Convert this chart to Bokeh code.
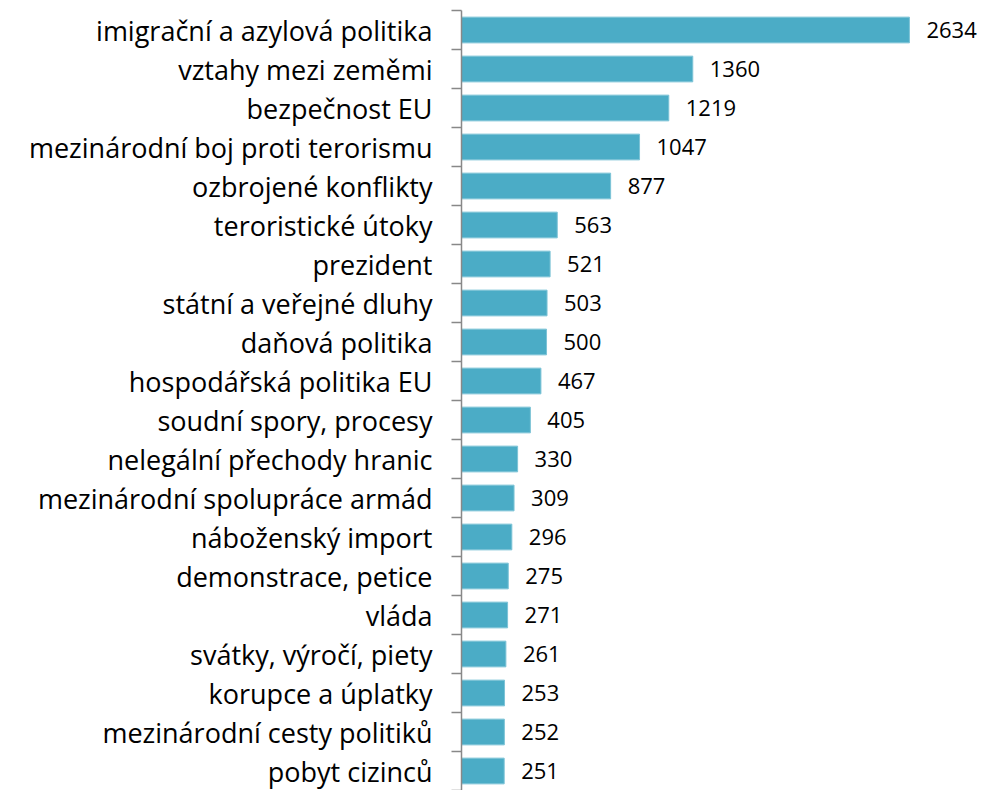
from bokeh.plotting import figure
from bokeh.models import Range1d, FixedTicker, ColumnDataSource
from bokeh.core.properties import value
from bokeh.embed import file_html
from bokeh.resources import INLINE

categories = [
    "imigrační a azylová politika",
    "vztahy mezi zeměmi",
    "bezpečnost EU",
    "mezinárodní boj proti terorismu",
    "ozbrojené konflikty",
    "teroristické útoky",
    "prezident",
    "státní a veřejné dluhy",
    "daňová politika",
    "hospodářská politika EU",
    "soudní spory, procesy",
    "nelegální přechody hranic",
    "mezinárodní spolupráce armád",
    "náboženský import",
    "demonstrace, petice",
    "vláda",
    "svátky, výročí, piety",
    "korupce a úplatky",
    "mezinárodní cesty politiků",
    "pobyt cizinců",
]
counts = [2634, 1360, 1219, 1047, 877, 563, 521, 503, 500, 467,
          405, 330, 309, 296, 275, 271, 261, 253, 252, 251]

n = len(categories)
centers = [i + 0.5 for i in range(n)]
bounds = [float(i) for i in range(n + 1)]

src = ColumnDataSource(dict(
    y=centers, v=counts, lab=[str(c) for c in counts], cat=categories,
))

FONT = "Open Sans"

p = figure(width=980, height=790, output_backend="svg", toolbar_location=None,
           x_range=Range1d(0, 3052), y_range=Range1d(n, 0),
           min_border_left=461, min_border_right=0, min_border_top=10,
           min_border_bottom=0)

p.hbar(y="y", left=0, right="v", height=0.66, source=src,
       fill_color="#4BACC6", line_color="#7cc3d6", line_width=1)

p.text(x="v", y="y", text="lab", source=src, x_offset=17,
       text_align="left", text_baseline="middle",
       text_font=value(FONT), text_font_size="22px", text_color="#000000")

p.xaxis.visible = False
p.xgrid.visible = False
p.ygrid.visible = False
p.outline_line_color = None

ax = p.yaxis[0]
ax.ticker = FixedTicker(ticks=centers, minor_ticks=bounds)
ax.major_label_overrides = {c: name for c, name in zip(centers, categories)}
ax.major_tick_line_color = None
ax.major_tick_out = 0
ax.major_tick_in = 0
ax.minor_tick_out = 10
ax.minor_tick_in = 0
ax.minor_tick_line_color = "#888888"
ax.minor_tick_line_width = 1.5
ax.axis_line_color = "#888888"
ax.axis_line_width = 1.5
ax.major_label_standoff = 19
ax.major_label_text_font = FONT
ax.major_label_text_font_size = "27px"
ax.major_label_text_color = "#000000"

p.background_fill_color = "white"
p.border_fill_color = "white"

open("out.html", "w").write(file_html(p, INLINE))
